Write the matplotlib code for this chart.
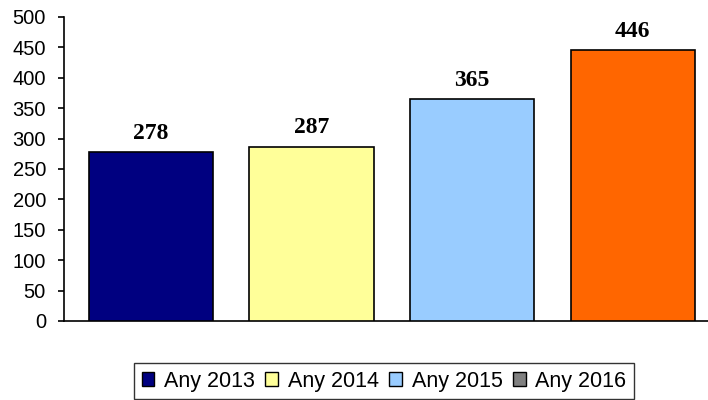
import matplotlib
matplotlib.use("Agg")
import matplotlib.pyplot as plt
from matplotlib.patches import Patch

categories = ["Any 2013", "Any 2014", "Any 2015", "Any 2016"]
values = [278, 287, 365, 446]
bar_colors = ["#000080", "#FFFF99", "#99CCFF", "#FF6600"]
legend_colors = ["#000080", "#FFFF99", "#99CCFF", "#808080"]
y_ticks = [0, 50, 100, 150, 200, 250, 300, 350, 400, 450, 500]

fig = plt.figure(figsize=(7.08, 4.0), dpi=100)
ax = fig.add_axes([64/708, 79/400, 1 - 64/708, (321-17)/400])

x = list(range(len(categories)))
ax.bar(x, values, width=0.773, color=bar_colors, edgecolor="black", linewidth=1.2, zorder=3)

for xi, v in zip(x, values):
    ax.annotate(str(v), (xi, v), xytext=(0, 9.4), textcoords="offset points",
                ha="center", va="baseline",
                family="Liberation Serif", fontweight="bold", fontsize=17)

ax.set_xlim(-0.542, 3.47)
ax.set_ylim(0, 500)
ax.set_yticks(y_ticks)
ax.set_yticklabels([str(t) for t in y_ticks], family="Liberation Sans", fontsize=14.5)
ax.set_xticks([])
for s in ["top", "right"]:
    ax.spines[s].set_visible(False)
ax.spines["left"].set_linewidth(1.2)
ax.spines["bottom"].set_linewidth(1.2)
ax.tick_params(axis="y", direction="out", length=4.5, width=1.2, pad=8.5)

handles = [Patch(facecolor=c, edgecolor="black", linewidth=1.0) for c in legend_colors]
leg = fig.legend(handles, categories, loc="center", bbox_to_anchor=(384/708, 1 - 381/400),
                 ncol=4, frameon=True, fancybox=False, edgecolor="black",
                 prop={"family": "Liberation Sans", "size": 15.5},
                 handlelength=0.58, handleheight=0.58, handletextpad=0.45,
                 columnspacing=0.5, borderpad=0.35, borderaxespad=0)
leg.get_frame().set_linewidth(1.0)

fig.savefig("out.png", dpi=100)
